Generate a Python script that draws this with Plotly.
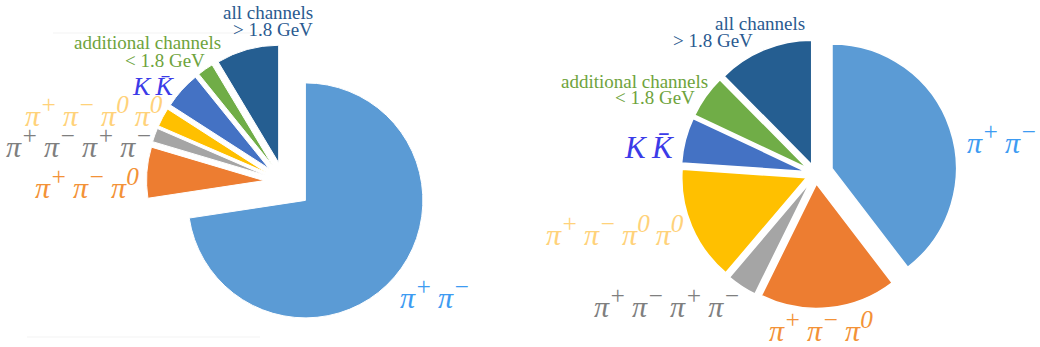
import plotly.graph_objects as go

W, H = 1040, 347

# ---------------- data ----------------
channels = ["π+π−", "π+π−π0", "π+π−π+π−", "π+π−π0π0", "KK̄",
            "additional channels < 1.8 GeV", "all channels > 1.8 GeV"]
left_values = [72.6, 7.0, 1.9, 2.6, 5.1, 2.2, 8.6]
right_values = [39.6, 17.7, 3.9, 14.9, 5.9, 5.6, 12.4]
left_pull = [0.24, 0.17, 0.17, 0.17, 0.17, 0.17, 0.17]
right_pull = [0.14, 0.08, 0.08, 0.08, 0.08, 0.08, 0.08]
slice_colors = ["#5B9BD5", "#ED7D31", "#A5A5A5", "#FFC000", "#4472C4", "#70AD47", "#255E91"]

SP = "\u2009"


def sup(s):
    return "<sup><span style='font-size:120%'>" + s + "</span></sup>"


def pis(charges):
    return SP.join("π" + sup(c) for c in charges)


lbl_pipi = pis(["+", "−"])
lbl_3pi = pis(["+", "−", "0"])
lbl_4pi = pis(["+", "−", "+", "−"])
lbl_2pi2pi0 = pis(["+", "−", "0", "0"])
lbl_kk = "K\u2009K\u0304"
lbl_all1, lbl_all2 = "all channels", "> 1.8 GeV"
lbl_add1, lbl_add2 = "additional channels", "< 1.8 GeV"

col_pipi = "#3D9BF2"
col_3pi = "#F39237"
col_4pi = "#7F7F7F"
col_2pi2pi0 = "#FFD27A"
col_kk = "#3B3BE8"
col_add = "#6EA33C"
col_all = "#2A5A90"


def dom(cx, cy, size):
    half = size / 2.0
    return dict(x=[(cx - half) / W, (cx + half) / W],
                y=[1 - (cy + half) / H, 1 - (cy - half) / H])


fig = go.Figure()
fig.add_trace(go.Pie(
    values=left_values, labels=channels, pull=left_pull, sort=False,
    direction="clockwise", rotation=0, textinfo="none", hoverinfo="skip",
    marker=dict(colors=slice_colors, line=dict(color="white", width=1)),
    domain=dom(284, 182, 291.4), showlegend=False))
fig.add_trace(go.Pie(
    values=right_values, labels=channels, pull=right_pull, sort=False,
    direction="clockwise", rotation=0, textinfo="none", hoverinfo="skip",
    marker=dict(colors=slice_colors, line=dict(color="white", width=1.5)),
    domain=dom(815.5, 174, 283.9), showlegend=False))

SERIF = "Liberation Serif"
annos = []


def add(text, x, y, color, size, xanchor="right", italic=False):
    annos.append(dict(text=text, x=x / W, y=1 - y / H, xref="paper", yref="paper",
                      xanchor=xanchor, yanchor="middle", showarrow=False,
                      font=dict(family=SERIF, size=size, color=color,
                                style="italic" if italic else "normal")))


# left pie labels
add(lbl_all1, 315, 13, col_all, 19)
add(lbl_all2, 315, 29, col_all, 19)
add(lbl_add1, 223, 42, col_add, 19)
add(lbl_add2, 207, 60, col_add, 19)
add(lbl_kk, 177, 86, col_kk, 26, italic=True)
add(lbl_2pi2pi0, 165, 111, col_2pi2pi0, 30, italic=True)
add(lbl_4pi, 154, 142, col_4pi, 30, italic=True)
add(lbl_3pi, 141, 183, col_3pi, 30, italic=True)
add(lbl_pipi, 398, 293, col_pipi, 30, xanchor="left", italic=True)

# right pie labels
add(lbl_all1, 807, 23, col_all, 19)
add(lbl_all2, 755, 40, col_all, 19)
add(lbl_add1, 710, 81, col_add, 19)
add(lbl_add2, 697, 97, col_add, 19)
add(lbl_kk, 677, 148, col_kk, 31, italic=True)
add(lbl_2pi2pi0, 686, 230, col_2pi2pi0, 30, italic=True)
add(lbl_4pi, 742, 302, col_4pi, 30, italic=True)
add(lbl_3pi, 767, 326, col_3pi, 30, xanchor="left", italic=True)
add(lbl_pipi, 965, 139, col_pipi, 30, xanchor="left", italic=True)

shapes = [
    dict(type="line", xref="paper", yref="paper", x0=53 / W, x1=260 / W,
         y0=1 - 33 / H, y1=1 - 33 / H, line=dict(color="#F3F3F3", width=1)),
    dict(type="line", xref="paper", yref="paper", x0=27 / W, x1=260 / W,
         y0=1 - 337 / H, y1=1 - 337 / H, line=dict(color="#F3F3F3", width=1)),
]

fig.update_layout(width=W, height=H, margin=dict(l=0, r=0, t=0, b=0),
                  paper_bgcolor="white", plot_bgcolor="white",
                  annotations=annos, shapes=shapes)
fig.write_html("out.html")
